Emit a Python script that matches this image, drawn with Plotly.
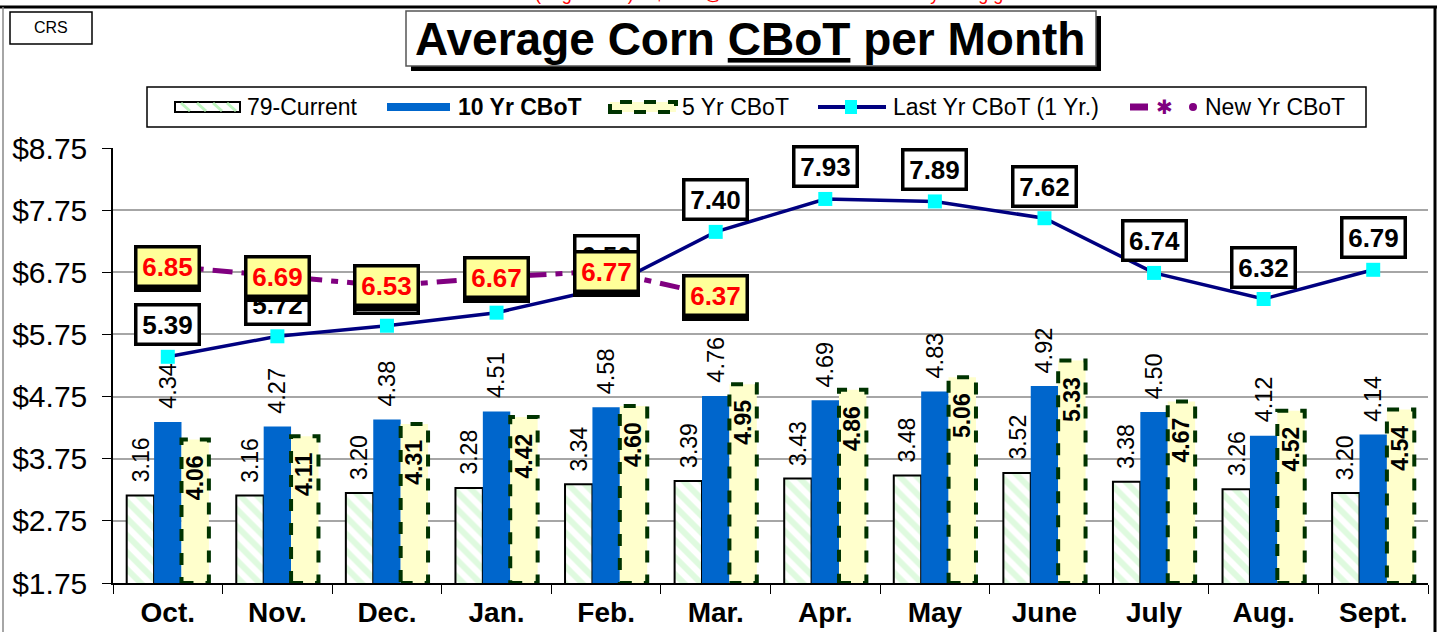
import plotly.graph_objects as go

months = ["Oct.", "Nov.", "Dec.", "Jan.", "Feb.", "Mar.", "Apr.", "May", "June", "July", "Aug.", "Sept."]
avg_79 = [3.16, 3.16, 3.20, 3.28, 3.34, 3.39, 3.43, 3.48, 3.52, 3.38, 3.26, 3.20]
avg_10yr = [4.34, 4.27, 4.38, 4.51, 4.58, 4.76, 4.69, 4.83, 4.92, 4.50, 4.12, 4.14]
avg_5yr = [4.06, 4.11, 4.31, 4.42, 4.60, 4.95, 4.86, 5.06, 5.33, 4.67, 4.52, 4.54]
last_yr = [5.39, 5.72, 5.89, 6.10, 6.50, 7.40, 7.93, 7.89, 7.62, 6.74, 6.32, 6.79]
new_yr = [6.85, 6.69, 6.53, 6.67, 6.77, 6.37]
y_ticks = [1.75, 2.75, 3.75, 4.75, 5.75, 6.75, 7.75, 8.75]

FONT = "Liberation Sans, Arial, sans-serif"
W, H = 1440, 632
L, R, T, B = 113, 1428, 148, 583


def px(X):
    return (X - L) / (R - L)


def py(Y):
    return (B - Y) / (B - T)


fig = go.Figure()
fig.add_trace(go.Bar(
    x=months, y=avg_79, name="79-Current",
    marker=dict(color="white", line=dict(color="black", width=2),
                pattern=dict(shape="\\", fgcolor="#bff5bf", bgcolor="white", size=12, solidity=0.5)),
))
fig.add_trace(go.Bar(
    x=months, y=avg_10yr, name="10 Yr CBoT",
    marker=dict(color="#0066CC", line=dict(width=0)),
))
fig.add_trace(go.Bar(
    x=months, y=avg_5yr, name="5 Yr CBoT",
    marker=dict(color="#FFFFCC", line=dict(width=0)),
))
fig.add_trace(go.Scatter(
    x=months, y=last_yr, name="Last Yr CBoT (1 Yr.)", mode="lines+markers",
    line=dict(color="#000080", width=3.5),
    marker=dict(symbol="square", size=14, color="#00FFFF", line=dict(width=0)),
))
fig.add_trace(go.Scatter(
    x=months[:len(new_yr)], y=new_yr, name="New Yr CBoT", mode="lines+markers",
    line=dict(color="#800080", width=5, dash="20px,9px,7px,9px"),
    marker=dict(symbol="asterisk-open", size=12, line=dict(color="#800080", width=2)),
))

shapes = []
annotations = []

# dashed outlines of 5 yr bars (bars occupy i+0.125 .. i+0.375 in group mode)
for i, v in enumerate(avg_5yr):
    shapes.append(dict(type="rect", xref="x", yref="y", x0=i + 0.125, x1=i + 0.375,
                       y0=y_ticks[0], y1=v, line=dict(color="#003300", width=4, dash="dash"),
                       layer="above"))

# bar labels
for i, v in enumerate(avg_79):
    annotations.append(dict(x=i - 0.25, y=v, xref="x", yref="y", text=f"{v:.2f}", showarrow=False,
                            textangle=-90, yanchor="bottom", yshift=11,
                            font=dict(family=FONT, size=23, color="black")))
for i, v in enumerate(avg_10yr):
    annotations.append(dict(x=i, y=v, xref="x", yref="y", text=f"{v:.2f}", showarrow=False,
                            textangle=-90, yanchor="bottom", yshift=11,
                            font=dict(family=FONT, size=23.5, color="black")))
for i, v in enumerate(avg_5yr):
    annotations.append(dict(x=i + 0.25, y=v, xref="x", yref="y", text=f"<b>{v:.2f}</b>", showarrow=False,
                            textangle=-90, yanchor="top", yshift=-14,
                            font=dict(family=FONT, size=23, color="black")))

# last year labels
for i, v in enumerate(last_yr):
    annotations.append(dict(x=i, y=v, xref="x", yref="y", text=f"<b>{v:.2f}</b>", showarrow=False,
                            yanchor="middle", yshift=32, width=54,
                            bgcolor="white", bordercolor="black", borderwidth=3.5, borderpad=3,
                            font=dict(family=FONT, size=26, color="black")))
# new year labels (shadow + box)
for i, v in enumerate(new_yr):
    annotations.append(dict(x=i, y=v, xref="x", yref="y", text=f"<b>{v:.2f}</b>", showarrow=False,
                            yanchor="middle", yshift=-4, width=54,
                            bgcolor="black", bordercolor="black", borderwidth=3.5, borderpad=3,
                            font=dict(family=FONT, size=26, color="black")))
    annotations.append(dict(x=i, y=v, xref="x", yref="y", text=f"<b>{v:.2f}</b>", showarrow=False,
                            yanchor="middle", width=54,
                            bgcolor="#FFFF99", bordercolor="black", borderwidth=3.5, borderpad=3,
                            font=dict(family=FONT, size=26, color="#FF0000")))


def prect(x0, y0, x1, y1, **kw):
    d = dict(type="rect", xref="paper", yref="paper", x0=px(x0), x1=px(x1), y0=py(y1), y1=py(y0))
    d.update(kw)
    return d


def pline(x0, y0, x1, y1, **kw):
    d = dict(type="line", xref="paper", yref="paper", x0=px(x0), x1=px(x1), y0=py(y0), y1=py(y1))
    d.update(kw)
    return d


def ptext(X, Y, text, size, color="black", xanchor="center", yanchor="middle", family=FONT):
    return dict(x=px(X), y=py(Y), xref="paper", yref="paper", text=text, showarrow=False,
                xanchor=xanchor, yanchor=yanchor, font=dict(family=family, size=size, color=color))


# outer frame
shapes.append(pline(0, 7, 1437, 7, line=dict(color="black", width=3)))
shapes.append(pline(1435, 7, 1435, 640, line=dict(color="black", width=3)))
shapes.append(pline(3, 7, 3, 640, line=dict(color="#888888", width=1.5)))

# red clipped note at very top
annotations.append(ptext(750, 6, "Mar. 2025 (Avg. CBoT) = $6.37 @ 46.8% = 46.4% Probability being greater",
                         18, color="#FF0000", yanchor="bottom"))

# CRS box
shapes.append(prect(10, 12, 92, 44, line=dict(color="black", width=1.5), fillcolor="white"))
annotations.append(ptext(51, 28, "CRS", 16))

# title box with shadow
shapes.append(prect(411, 16, 1101, 71, line=dict(color="black", width=0), fillcolor="black"))
shapes.append(prect(406, 11, 1096, 66, line=dict(color="#555555", width=1.5), fillcolor="white"))
annotations.append(ptext(750, 39, "<b>Average Corn <u>CBoT</u> per Month</b>", 46))

# custom legend
shapes.append(prect(147, 87, 1366, 127, line=dict(color="black", width=1.5), fillcolor="white"))
# 79-Current
shapes.append(prect(175, 102, 240, 112, line=dict(color="black", width=2), fillcolor="white"))
for sx in (181, 197, 213, 227):
    shapes.append(pline(sx, 103, sx + 9, 111, line=dict(color="#bff5bf", width=3)))
annotations.append(ptext(245, 107, "79-Current", 23, xanchor="left"))
# 10 Yr
shapes.append(prect(387, 103, 450, 111, line=dict(width=0), fillcolor="#0066CC"))
annotations.append(ptext(456, 107, "<b>10 Yr CBoT</b>", 23, xanchor="left"))
# 5 Yr
shapes.append(prect(610, 102, 676, 112, line=dict(color="#003300", width=4, dash="dash"), fillcolor="#FFFFCC"))
annotations.append(ptext(680, 107, "5 Yr CBoT", 23, xanchor="left"))
# Last Yr
shapes.append(pline(818, 107, 886, 107, line=dict(color="#000080", width=4)))
shapes.append(prect(845, 100, 857, 114, line=dict(width=0), fillcolor="#00FFFF"))
annotations.append(ptext(891, 107, "Last Yr CBoT (1 Yr.)", 23, xanchor="left"))
# New Yr
shapes.append(pline(1130, 107, 1148, 107, line=dict(color="#800080", width=7)))
annotations.append(ptext(1164, 107, "✱", 20, color="#800080", family="DejaVu Sans"))
shapes.append(dict(type="circle", xref="paper", yref="paper", x0=px(1189), x1=px(1197),
                   y0=py(111), y1=py(103), line=dict(width=0), fillcolor="#800080"))
annotations.append(ptext(1203, 107, "New Yr CBoT", 23, xanchor="left"))

fig.update_layout(
    width=W, height=H,
    margin=dict(l=L, r=W - R, t=T, b=H - B, pad=0, autoexpand=False),
    paper_bgcolor="white", plot_bgcolor="white",
    barmode="group", bargap=0.25, bargroupgap=0,
    showlegend=False,
    font=dict(family=FONT, color="black"),
    shapes=shapes, annotations=annotations,
    xaxis=dict(type="category", range=[-0.5, len(months) - 0.5], autorange=False, automargin=False,
               tickson="boundaries", ticks="outside", ticklen=9, tickcolor="black",
               tickwidth=1, showline=True, linecolor="black", linewidth=1.5, showgrid=False,
               tickfont=dict(family=FONT, size=28, color="black"), ticklabelstandoff=4,
               categoryorder="array", categoryarray=months,
               tickvals=months, ticktext=[f"<b>{m}</b>" for m in months]),
    yaxis=dict(range=[y_ticks[0], y_ticks[-1]], autorange=False, automargin=False,
               tickvals=y_ticks, ticktext=[f"${v:.2f}" for v in y_ticks],
               ticks="outside", ticklen=9, tickcolor="black", showline=True, linecolor="black", linewidth=1.5,
               showgrid=True, gridcolor="#a6a6a6", gridwidth=1.5, zeroline=False,
               ticklabelstandoff=9,
               tickfont=dict(family=FONT, size=30, color="black")),
)

fig.write_html("out.html", config={"displayModeBar": False},
               post_script="document.body.style.margin='0';document.body.style.overflow='hidden';")
